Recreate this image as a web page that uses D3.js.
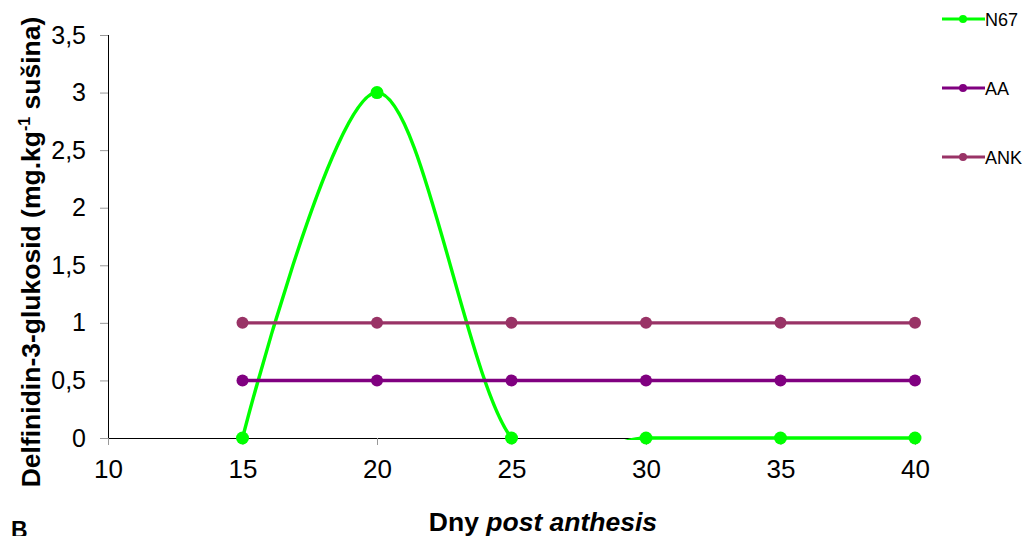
<!DOCTYPE html>
<html>
<head>
<meta charset="utf-8">
<script src="https://cdn.jsdelivr.net/npm/d3@7"></script>
<style>
    body { margin: 0; background: #fff; }
    text { font-family: Arial, "Liberation Sans", sans-serif; }
</style>
</head>
<body>
<div id="chart"></div>
<script>

// data
const days = [15, 20, 25, 30, 35, 40];
const n67 = [0, 3, 0, 0, 0, 0];
const aa = [0.5, 0.5, 0.5, 0.5, 0.5, 0.5];
const ank = [1, 1, 1, 1, 1, 1];
const seriesNames = ["N67", "AA", "ANK"];
const seriesColors = ["#00ff00", "#800080", "#993366"];
const xTicks = [10, 15, 20, 25, 30, 35, 40];
const yTicks = [0, 0.5, 1, 1.5, 2, 2.5, 3, 3.5];

const widthSvg = 1026, heightSvg = 536;
const plotLeft = 108, plotRight = 915, plotTop = 35, plotBottom = 438;
const fontFamily = "Arial, 'Liberation Sans', sans-serif";

const xScale = d3.scaleLinear().domain([10, 40]).range([plotLeft, plotRight]);
const yScale = d3.scaleLinear().domain([0, 3.5]).range([plotBottom, plotTop]);

const svg = d3.select("#chart").append("svg")
    .attr("width", widthSvg).attr("height", heightSvg);

// clip to plot area (Excel clips the smoothed line under 0)
svg.append("clipPath").attr("id", "plotClip")
    .append("rect")
    .attr("x", plotLeft - 10).attr("y", plotTop - 10)
    .attr("width", plotRight - plotLeft + 20).attr("height", plotBottom - plotTop + 12);

// y axis
const yAxis = svg.append("g")
    .attr("transform", `translate(${plotLeft},0)`)
    .call(d3.axisLeft(yScale).tickValues(yTicks).tickSize(8).tickPadding(14)
        .tickFormat(d => String(d).replace(".", ",")));
yAxis.select(".domain").attr("stroke", "#000").attr("d", `M0.5,${plotTop}V${plotBottom}`);
yAxis.selectAll(".tick line").attr("stroke", "#999");
yAxis.selectAll(".tick text").attr("font-size", 25).attr("fill", "#000")
    .attr("font-family", fontFamily);

// x axis
const xAxis = svg.append("g")
    .attr("transform", `translate(0,${plotBottom})`)
    .call(d3.axisBottom(xScale).tickValues(xTicks).tickSize(7).tickPadding(15));
xAxis.select(".domain").attr("stroke", "#000").attr("d", `M${plotLeft},0.5H${plotRight}`);
xAxis.selectAll(".tick line").attr("stroke", "#999");
xAxis.selectAll(".tick text").attr("font-size", 26).attr("fill", "#000")
    .attr("font-family", fontFamily);

// axis titles
const yTitle = svg.append("text")
    .attr("transform", `translate(40,252) rotate(-90)`)
    .attr("text-anchor", "middle")
    .attr("font-size", 26.5).attr("font-weight", "bold");
yTitle.append("tspan").text("Delfinidin-3-glukosid (mg.kg");
yTitle.append("tspan").text("-1").attr("font-size", 16).attr("dy", -10);
yTitle.append("tspan").text(" sušina)").attr("dy", 10);

const xTitle = svg.append("text")
    .attr("x", 543).attr("y", 531)
    .attr("text-anchor", "middle")
    .attr("font-size", 26.5).attr("font-weight", "bold");
xTitle.append("tspan").text("Dny ");
xTitle.append("tspan").text("post anthesis").attr("font-style", "italic");

svg.append("text").text("B")
    .attr("x", 11).attr("y", 538)
    .attr("font-size", 23).attr("font-weight", "bold");

// series
const seriesData = [n67, aa, ank];
const plot = svg.append("g").attr("clip-path", "url(#plotClip)");

seriesData.forEach((values, i) => {
    const points = days.map((d, j) => ({ x: d, y: values[j] }));
    const line = d3.line()
        .x(d => xScale(d.x))
        .y(d => yScale(d.y))
        .curve(i === 0 ? d3.curveCardinal.tension(0) : d3.curveLinear);

    plot.append("path")
        .datum(points)
        .attr("fill", "none")
        .attr("stroke", seriesColors[i])
        .attr("stroke-width", 3.4)
        .attr("d", line);
});

// markers on top
seriesData.forEach((values, i) => {
    svg.append("g").selectAll("circle")
        .data(days.map((d, j) => ({ x: d, y: values[j] })))
        .enter()
        .append("circle")
        .attr("cx", d => xScale(d.x))
        .attr("cy", d => yScale(d.y))
        .attr("r", i === 0 ? 6.5 : 6)
        .attr("fill", seriesColors[i]);
});

// legend
const legendY = [19, 88, 157];
seriesNames.forEach((name, i) => {
    const g = svg.append("g").attr("transform", `translate(942,${legendY[i]})`);
    g.append("line").attr("x1", 0).attr("x2", 43).attr("y1", 0).attr("y2", 0)
        .attr("stroke", seriesColors[i]).attr("stroke-width", 3);
    g.append("circle").attr("cx", 21).attr("cy", 0).attr("r", 4).attr("fill", seriesColors[i]);
    g.append("text").text(name).attr("x", 43).attr("y", 7)
        .attr("font-size", 18).attr("fill", "#000");
});

</script>
</body>
</html>
